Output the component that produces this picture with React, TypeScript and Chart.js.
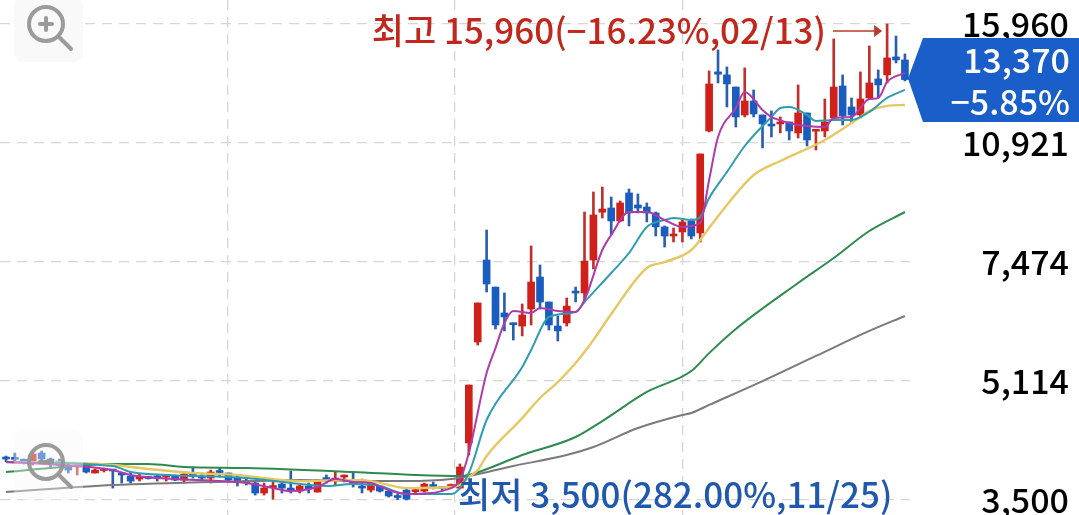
import React, { useEffect, useRef } from "react";
import { Chart, registerables } from "chart.js";

Chart.register(...registerables);

const opens = [3995,3995,3968,3963,4066,3989,3963,3901,3889,3926,3815,3845,3851,3803,3778,3742,3760,3778,3766,3778,3730,3791,3778,3754,3833,3815,3766,3712,3695,3579,3642,3683,3636,3601,3660,3590,3748,3730,3766,3707,3648,3613,3660,3601,3539,3613,3595,3601,3666,3642,3654,3636,4198,5792,7522,6900,6354,6150,6094,6434,7125,6580,6094,6154,6800,6772,7522,8760,8878,8519,9315,8965,8906,8739,8359,8120,8225,8519,8199,11349,13700,13570,13055,11943,12488,11943,11600,11605,11680,11278,12019,11340,11349,11830,13099,12252,11943,12608,13396,13570,14370,14232];
const highs = [4027,4066,3989,4079,4092,4002,3989,3939,3914,3939,3864,3876,3851,3803,3827,3803,3766,3791,3791,3791,3827,3889,3815,3851,3876,3815,3778,3754,3707,3695,3707,3695,3839,3671,3695,3730,3791,3827,3791,3827,3742,3707,3660,3601,3567,3636,3636,3695,3707,3648,3683,3926,5050,6560,8277,6900,6772,6154,6538,7866,7404,6580,6293,6665,6900,8766,9344,9491,9196,9079,9433,9285,9022,8766,8385,8331,8546,8574,10547,13743,14693,13920,13055,13875,12934,11943,12097,11868,11680,13142,12019,11349,12568,15218,13570,12608,13699,14880,13786,15960,15360,14510];
const lows = [3955,3939,3926,3914,3951,3876,3889,3815,3791,3815,3815,3827,3636,3695,3695,3718,3742,3718,3718,3722,3695,3754,3718,3695,3766,3707,3660,3671,3556,3556,3510,3579,3579,3579,3579,3590,3695,3671,3707,3648,3579,3590,3590,3533,3505,3500,3567,3590,3625,3601,3636,3625,4040,5737,6793,6037,6000,5829,5905,6115,6434,6018,5811,6094,6580,6601,7310,8600,8147,8492,8385,8739,8492,8120,7840,7967,7967,8044,7967,11313,13227,12252,11493,11868,11868,10751,11135,11278,11028,11098,10818,10682,11135,11792,11568,11642,11830,12568,12648,13227,14097,13311];
const closes = [3989,3985,3960,4053,3989,3939,3914,3851,3914,3827,3851,3851,3839,3791,3718,3754,3748,3754,3778,3730,3803,3778,3754,3827,3821,3730,3707,3701,3579,3636,3654,3636,3613,3660,3625,3730,3736,3754,3778,3683,3636,3695,3601,3545,3528,3510,3607,3683,3654,3630,3666,3889,5050,6560,6969,6115,6273,6120,6313,7013,6580,6115,6000,6494,6770,7498,8684,8850,8519,9022,8739,8878,8739,8359,8120,8173,8492,8120,10547,13185,13600,13185,11868,12488,11981,11605,11530,11680,11349,12019,11028,11349,11680,13055,11906,11943,12568,13227,13142,14325,14232,13370];

const ma5Days = [0,8,12,14,17,27,30,32,35,37,39,41,43,45,50,51,52,54,55,56,57,59,60,62,64,65,67,68,70,72,74,76,78,79,80,82,83,85,86,88,90,92,93,95,97,98,99,101];
const ma5Values = [3951,3901,3851,3791,3754,3695,3636,3601,3648,3742,3707,3695,3613,3567,3636,3730,4066,5247,5682,6154,6394,6354,6455,6394,6374,6622,7766,8147,8766,8766,8546,8359,8465,9708,11135,12212,12852,12135,11868,11642,11530,11493,11830,11868,12568,12608,13268,13655];
const ma20Days = [0,12,14,18,27,32,36,39,42,45,50,52,54,58,59,61,64,65,68,70,72,74,75,77,78,79,81,83,86,87,88,90,91,93,95,97,99,101];
const ma20Values = [3951,3901,3827,3791,3754,3695,3660,3683,3660,3567,3567,3815,4517,5347,5646,6273,6374,6580,7217,7692,8359,8546,8600,8546,8628,9167,9957,10818,11868,12212,12252,11943,11717,11754,11754,12058,12608,12934];
const ma60Days = [0,8,12,16,21,26,29,33,38,41,45,50,51,52,53,54,58,60,62,64,66,68,72,74,77,79,81,84,87,92,96,97,99,101];
const ma60Values = [3951,3939,3914,3864,3815,3791,3754,3718,3730,3718,3636,3648,3671,3766,3851,4027,4545,4845,5097,5416,5829,6333,7334,7474,7766,8331,8965,9864,10314,11028,11868,12097,12292,12330];
const ma120Days = [0,5,12,16,20,27,39,46,51,52,58,64,67,72,77,79,82,89,93,97,101];
const ma120Values = [3827,3876,3926,3926,3889,3876,3827,3791,3778,3791,4040,4279,4502,4939,5280,5590,6037,6991,7570,8251,8766];
const ma240Days = [0,12,28,33,40,45,50,52,57,63,66,71,76,77,79,85,91,97,101];
const ma240Values = [3590,3671,3718,3730,3718,3718,3742,3778,3901,4040,4145,4403,4590,4620,4739,5114,5540,6000,6293];

const priceTicks = [3500, 5114, 7474, 10921, 15960];
const gridDays = [24.89, 50.45, 76.02];

const highText = "최고 15,960(−16.23%,02/13)";
const lowText = "최저 3,500(282.00%,11/25)";
const lastPriceText = "13,370";
const lastChangeText = "−5.85%";

const RED = "#d0201a";
const BLUE = "#1b5cc0";
const FONT = '"Noto Sans CJK KR", "Noto Sans", sans-serif';

const pairs = (days: number[], values: number[]) => days.map((d, i) => ({ x: d, y: values[i] }));
const candleColor = opens.map((o, i) => (closes[i] >= o ? RED : BLUE));
const wickColor = opens.map((o, i) => (closes[i] >= o ? "#c0302a" : "#2a5fae"));

const line = (data: { x: number; y: number }[], color: string, order: number, width = 2) => ({
  type: "line" as const,
  data,
  borderColor: color,
  borderWidth: width,
  pointRadius: 0,
  cubicInterpolationMode: "monotone",
  fill: false,
  order,
});

function drawIcon(ctx: CanvasRenderingContext2D, top: number, cy: number, h: number, plus: boolean, bg: string) {
  ctx.save();
  ctx.fillStyle = bg;
  ctx.beginPath();
  ctx.roundRect(14, top, 69, h, 10);
  ctx.fill();
  ctx.strokeStyle = "rgba(150,150,150,0.95)";
  ctx.lineWidth = 4;
  ctx.lineCap = "round";
  ctx.beginPath();
  ctx.arc(46, cy, 17, 0, Math.PI * 2);
  ctx.stroke();
  ctx.beginPath();
  ctx.moveTo(60, cy + 14);
  ctx.lineTo(71, cy + 25);
  ctx.stroke();
  ctx.beginPath();
  ctx.moveTo(40, cy);
  ctx.lineTo(52, cy);
  if (plus) {
    ctx.moveTo(46, cy - 6);
    ctx.lineTo(46, cy + 6);
  }
  ctx.stroke();
  ctx.restore();
}

const overlay = {
  id: "overlay",
  afterDraw(chart: any) {
    const { ctx, scales } = chart;
    const y = scales.y;
    const x = scales.x;
    const last = closes.length - 1;
    const hiIdx = highs.indexOf(Math.max(...highs));

    ctx.save();
    ctx.textBaseline = "middle";

    // high note and arrow
    ctx.font = `500 35px ${FONT}`;
    ctx.textAlign = "right";
    ctx.fillStyle = "#c0281e";
    ctx.fillText(highText, 826, y.getPixelForValue(Math.max(...highs)) + 7);
    const ay = y.getPixelForValue(Math.max(...highs)) + 7;
    const ax = x.getPixelForValue(hiIdx) - 5;
    ctx.strokeStyle = "#b83a2e";
    ctx.lineWidth = 1.5;
    ctx.beginPath();
    ctx.moveTo(833, ay);
    ctx.lineTo(ax - 6, ay);
    ctx.stroke();
    ctx.fillStyle = "#b83a2e";
    ctx.beginPath();
    ctx.moveTo(ax, ay);
    ctx.lineTo(ax - 8, ay - 6);
    ctx.lineTo(ax - 8, ay + 6);
    ctx.closePath();
    ctx.fill();

    // low note
    ctx.textAlign = "left";
    ctx.fillStyle = "#1f58ad";
    ctx.fillText(lowText, 458, y.getPixelForValue(Math.min(...lows)) - 5);

    // current price tag
    const tipY = y.getPixelForValue(closes[last]);
    ctx.fillStyle = "#1a5fc9";
    ctx.beginPath();
    ctx.moveTo(908, tipY - 1);
    ctx.lineTo(923, 38);
    ctx.lineTo(1079, 38);
    ctx.lineTo(1079, 122);
    ctx.lineTo(923, 122);
    ctx.closePath();
    ctx.fill();
    ctx.font = `500 34px ${FONT}`;
    ctx.textAlign = "right";
    ctx.fillStyle = "#ffffff";
    ctx.fillText(lastPriceText, 1070, 60);
    ctx.fillText(lastChangeText, 1070, 102);
    ctx.restore();

    drawIcon(ctx, -4, 24, 66, true, "#f9f9f9");
    drawIcon(ctx, 429, 462, 71, false, "rgba(248,248,248,0.4)");
  },
};

export default function App() {
  const ref = useRef<HTMLCanvasElement>(null);
  useEffect(() => {
    const chart = new Chart(ref.current as HTMLCanvasElement, {
      type: "bar",
      data: {
        datasets: [
          line(pairs(ma5Days, ma5Values), "#b03aa8", 0),
          line(pairs(ma20Days, ma20Values), "#2f9cb0", 1),
          line(pairs(ma60Days, ma60Values), "#e6c862", 2, 2.4),
          line(pairs(ma120Days, ma120Values), "#2f8a4f", 3),
          line(pairs(ma240Days, ma240Values), "#7a7a7a", 4),
          {
            type: "bar",
            data: opens.map((o, i) => ({ x: i, y: [o, closes[i]] })),
            backgroundColor: candleColor,
            barThickness: 7,
            minBarLength: 2,
            grouped: false,
            order: 5,
          },
          {
            type: "bar",
            data: opens.map((_, i) => ({ x: i, y: [lows[i], highs[i]] })),
            backgroundColor: wickColor,
            barThickness: 2,
            grouped: false,
            order: 6,
          },
        ],
      } as any,
      options: {
        animation: false,
        responsive: false,
        layout: { padding: { left: 0, top: 0, bottom: 0, right: 10 } },
        plugins: { legend: { display: false }, tooltip: { enabled: false } },
        scales: {
          x: {
            type: "linear",
            min: -0.674,
            max: 101.57,
            offset: false,
            afterBuildTicks: (s: any) => {
              s.ticks = gridDays.map((value) => ({ value }));
            },
            afterFit: (s: any) => {
              s.height = 0;
              s.paddingLeft = 0;
              s.paddingRight = 0;
            },
            ticks: { display: false },
            border: { display: false, dash: [10, 7] },
            grid: { color: "#d6d6d6", lineWidth: 1.3, drawTicks: false, offset: false },
          },
          y: {
            type: "logarithmic",
            position: "right",
            min: 3337,
            max: 17229,
            bounds: "data",
            afterBuildTicks: (s: any) => {
              s.ticks = priceTicks.map((value) => ({ value }));
            },
            afterFit: (s: any) => {
              s.width = 159;
              s.paddingTop = 0;
              s.paddingBottom = 0;
            },
            ticks: {
              autoSkip: false,
              maxRotation: 0,
              crossAlign: "far",
              color: "#000000",
              font: { family: FONT, size: 34, weight: "500" },
              callback: (v: any) => Number(v).toLocaleString("en-US"),
            },
            border: { display: false, dash: [10, 7] },
            grid: { color: "#d6d6d6", lineWidth: 1.3, drawTicks: false },
          },
        },
      } as any,
      plugins: [overlay],
    });
    return () => chart.destroy();
  }, []);
  return (
    <div style={{ position: "fixed", left: 0, top: 0, width: 1079, height: 515, background: "#fff" }}>
      <canvas ref={ref} width={1079} height={515} style={{ display: "block" }} />
    </div>
  );
}
